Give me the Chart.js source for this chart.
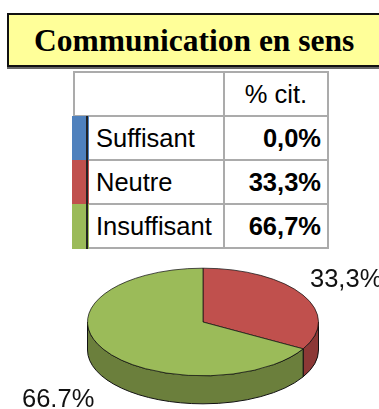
<!DOCTYPE html>
<html lang="fr">
<head>
    <meta charset="UTF-8">
    <title>Communication en sens</title>
    <script src="https://cdn.jsdelivr.net/npm/chart.js"></script>
    <style>
        body {
            margin: 0;
            width: 379px;
            height: 409px;
            overflow: hidden;
            position: relative;
            background: #fff;
            font-family: "Liberation Sans", Arial, sans-serif;
        }
        #title {
            position: absolute;
            left: 7px;
            top: 13px;
            width: 420px;
            height: 50px;
            background: #ffff99;
            border: 2px solid #111;
            box-shadow: 0 2px 0 #666;
            font-family: "Liberation Serif", "Times New Roman", serif;
            font-weight: bold;
            font-size: 31.5px;
            line-height: 52px;
            padding-left: 25px;
            box-sizing: content-box;
        }
        #results {
            position: absolute;
            left: 73px;
            top: 71px;
            border-collapse: collapse;
            font-size: 25.5px;
        }
        #results td {
            border: 2px solid #ababab;
            padding: 0;
            height: 42px;
        }
        #results td.name {
            width: 127px;
            padding-left: 21px;
        }
        #results td.val {
            width: 96px;
            text-align: right;
            padding-right: 6px;
            font-weight: bold;
        }
        #results td.head {
            text-align: center;
            padding: 0;
        }
        .swatch {
            position: absolute;
            left: 72px;
            width: 17px;
        }
        .swatch::after {
            content: "";
            position: absolute;
            left: 14px;
            top: 0;
            bottom: 0;
            width: 2px;
            background: #222;
        }
        #pie {
            position: absolute;
            left: 0;
            top: 202px;
        }
    </style>
</head>
<body>
    <div id="title">Communication en sens</div>
    <table id="results"></table>
    <canvas id="pie" width="379" height="240"></canvas>

    <script>
        const categories = ['Suffisant', 'Neutre', 'Insuffisant'];
        const percents = [0.0, 33.3, 66.7];
        const tableLabels = ['0,0%', '33,3%', '66,7%'];
        const sliceLabels = ['', '33,3%', '66.7%'];
        const colors = ['#4f81bd', '#c0504d', '#9bbb59'];
        const sideColors = ['#385d8a', '#8c3836', '#6b7f3c'];

        // table of results with the colour key on the left
        const table = document.getElementById('results');
        let html = '<tr><td class="name"></td><td class="head">% cit.</td></tr>';
        categories.forEach((c, i) => {
            html += `<tr><td class="name">${c}</td><td class="val">${tableLabels[i]}</td></tr>`;
        });
        table.innerHTML = html;

        const rows = table.querySelectorAll('tr');
        categories.forEach((c, i) => {
            const r = rows[i + 1].getBoundingClientRect();
            const sw = document.createElement('div');
            sw.className = 'swatch';
            sw.style.top = r.top + 'px';
            sw.style.height = (r.height + (i === categories.length - 1 ? 1 : 0)) + 'px';
            sw.style.background = colors[i];
            document.body.appendChild(sw);
        });

        // flatten the pie into an ellipse and give it a rim
        const tilt = {
            id: 'tilt',
            beforeDatasetsDraw(chart, args, opts) {
                const ctx = chart.ctx;
                const arcs = chart.getDatasetMeta(0).data;
                const cx = arcs[0].x, cy = arcs[0].y;
                const R = arcs[0].outerRadius;
                const ry = R * opts.k;

                arcs.forEach((arc, i) => {
                    let a0 = Math.max(arc.startAngle, 0);
                    let a1 = Math.min(arc.endAngle, Math.PI);
                    // second lap of the circle
                    if (arc.endAngle > 2 * Math.PI) {
                        a0 = Math.max(arc.startAngle, 2 * Math.PI) - 2 * Math.PI;
                        a1 = Math.min(arc.endAngle - 2 * Math.PI, Math.PI);
                    }
                    if (a1 <= a0) return;
                    ctx.save();
                    ctx.beginPath();
                    ctx.ellipse(cx, cy, R, ry, 0, a0, a1);
                    ctx.lineTo(cx + R * Math.cos(a1), cy + ry * Math.sin(a1) + opts.depth);
                    ctx.ellipse(cx, cy + opts.depth, R, ry, 0, a1, a0, true);
                    ctx.closePath();
                    ctx.fillStyle = sideColors[i];
                    ctx.fill();
                    ctx.lineWidth = 1;
                    ctx.strokeStyle = '#111';
                    ctx.stroke();
                    ctx.restore();
                });

                ctx.save();
                ctx.translate(cx, cy);
                ctx.scale(1, opts.k);
                ctx.translate(-cx, -cy);
            },
            afterDatasetsDraw(chart) {
                chart.ctx.restore();
            },
            afterDraw(chart) {
                const ctx = chart.ctx;
                const arc = chart.getDatasetMeta(0).data[0];
                const cx = arc.x, cy = arc.y;
                ctx.save();
                ctx.font = '25.5px "Liberation Sans", Arial, sans-serif';
                ctx.fillStyle = '#111';
                ctx.textAlign = 'left';
                ctx.textBaseline = 'alphabetic';
                ctx.fillText(sliceLabels[1], cx + 107, cy - 35);
                ctx.fillText(sliceLabels[2], cx - 181, cy + 85);
                ctx.restore();
            }
        };

        new Chart(document.getElementById('pie'), {
            type: 'pie',
            data: {
                labels: categories,
                datasets: [{
                    data: percents,
                    backgroundColor: colors,
                    borderColor: '#111',
                    borderWidth: 1
                }]
            },
            options: {
                responsive: false,
                animation: false,
                layout: { padding: { left: 27, top: 4, bottom: 4 } },
                plugins: {
                    legend: { display: false },
                    tooltip: { enabled: false },
                    tilt: { k: 0.466, depth: 28 }
                }
            },
            plugins: [tilt]
        });
    </script>
</body>
</html>
